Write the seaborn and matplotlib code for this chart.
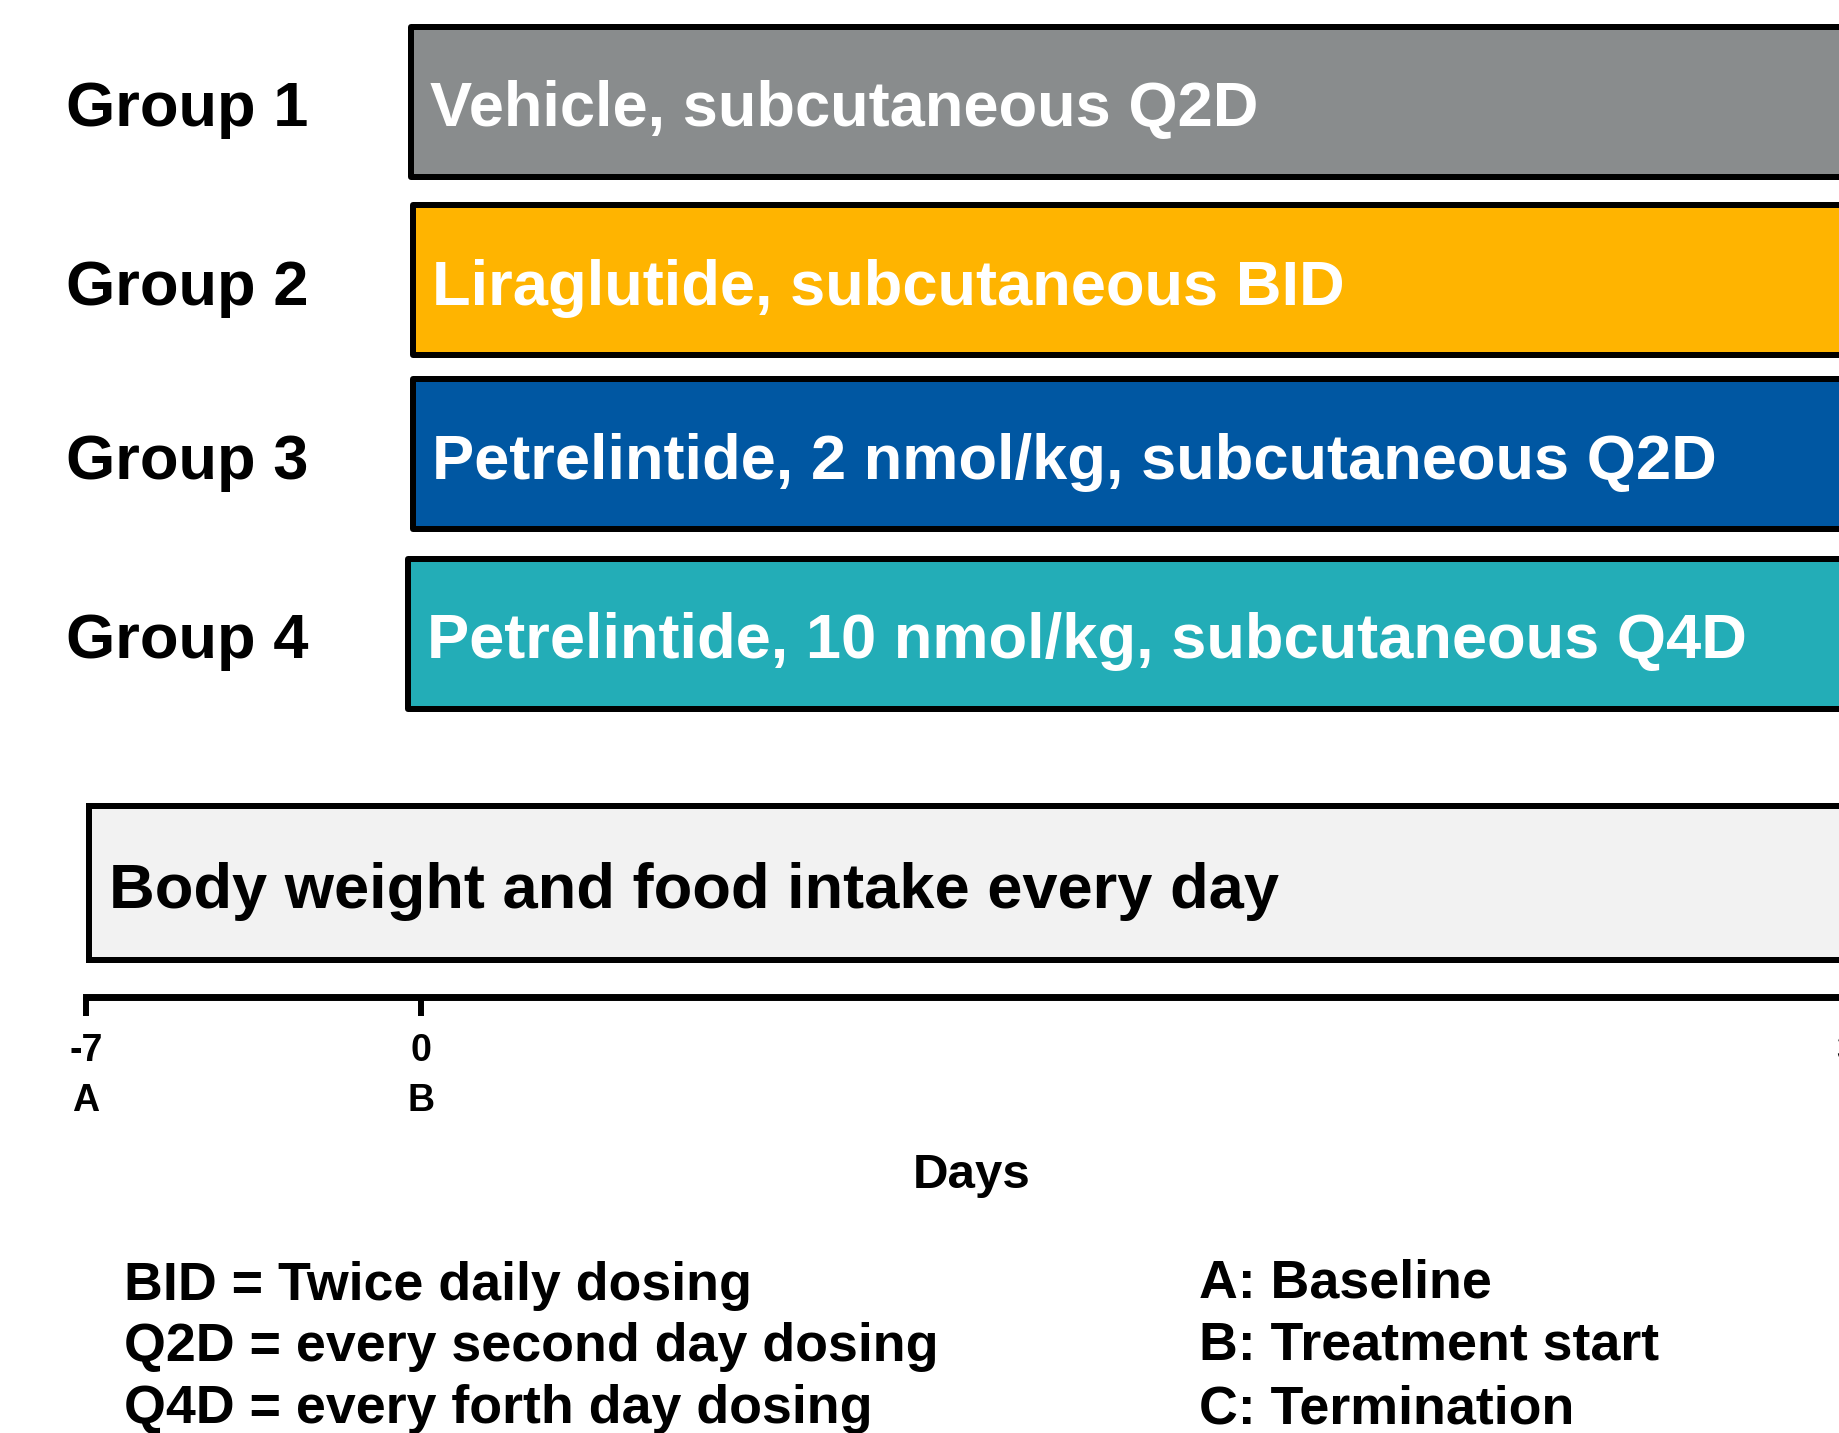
import matplotlib
matplotlib.use("Agg")
import matplotlib.pyplot as plt
import seaborn as sns
import pandas as pd

# ---------------- data ----------------
groups = ["Group 1", "Group 2", "Group 3", "Group 4"]
treatments = [
    "Vehicle, subcutaneous Q2D",
    "Liraglutide, subcutaneous BID",
    "Petrelintide, 2 nmol/kg, subcutaneous Q2D",
    "Petrelintide, 10 nmol/kg, subcutaneous Q4D",
]
start_day = [-0.21, -0.17, -0.17, -0.27]
end_day = [32, 32, 32, 32]
bar_colors = ["#898C8D", "#FFB400", "#0057A2", "#23ADB7"]

monitor_label = "Body weight and food intake every day"
monitor_start = -6.94
monitor_end = 32
monitor_color = "#F2F2F2"

tick_days = [-7, 0, 30]
tick_letters = ["A", "B", "C"]
axis_label = "Days"

abbrev_notes = ["BID = Twice daily dosing",
                "Q2D = every second day dosing",
                "Q4D = every forth day dosing"]
timepoint_notes = ["A: Baseline", "B: Treatment start", "C: Termination"]

df = pd.DataFrame({"group": groups, "treatment": treatments,
                   "start": start_day, "end": end_day, "color": bar_colors})

# ---------------- layout (pixels of the 1840x1433 canvas) ----------------
W, H = 1840, 1433
DPI = 100
px_per_day = 47.86
x_left_px = 86
row_centers = [101.5, 280, 454, 633.5]
row_height = 150
mon_center, mon_height = 883, 154
axis_y = 996.5
lw = 4.32  # 6 px

sns.set_theme(style="white")
plt.rcParams["font.family"] = ["Liberation Sans", "DejaVu Sans"]
plt.rcParams["font.weight"] = "bold"
plt.rcParams["text.color"] = "black"
plt.rcParams["axes.labelcolor"] = "black"
plt.rcParams["xtick.color"] = "black"
plt.rcParams["xtick.labelcolor"] = "black"

fig = plt.figure(figsize=(W / DPI, H / DPI), dpi=DPI)
ax_w = (tick_days[-1] - tick_days[0]) * px_per_day / W
ax = fig.add_axes([x_left_px / W, 0, ax_w, 1])
ax.set_xlim(tick_days[0], tick_days[-1])
ax.set_ylim(H, 0)
ax.axis("off")

# treatment bars
bars = ax.barh(row_centers, df["end"] - df["start"], left=df["start"],
               height=row_height, color=df["color"], edgecolor="black",
               linewidth=lw, clip_on=False)
for b in bars:
    b.set_joinstyle("round")

fs_big = 45.5
cap_off = 0.716 * fs_big * DPI / 72 / 2 + 2
for yc, s, t, g in zip(row_centers, df["start"], df["treatment"], df["group"]):
    ax.text(s + 0.4, yc + cap_off, t, color="white", fontsize=fs_big,
            fontweight="bold", va="baseline", ha="left")
    ax.text(tick_days[0] - 20.5 / px_per_day, yc + cap_off, g, color="black",
            fontsize=fs_big, fontweight="bold", va="baseline", ha="left",
            clip_on=False)

# monitoring bar
mb = ax.barh([mon_center], [monitor_end - monitor_start], left=[monitor_start],
             height=mon_height, color=monitor_color, edgecolor="black",
             linewidth=lw, clip_on=False)
ax.text(monitor_start + 20 / px_per_day, mon_center + cap_off, monitor_label,
        color="black", fontsize=fs_big, fontweight="bold", va="baseline",
        ha="left")

# time axis
ax2 = fig.add_axes([x_left_px / W, (H - axis_y) / H, ax_w, 0.0001])
ax2.set_xlim(tick_days[0], tick_days[-1])
for side in ["top", "left", "right"]:
    ax2.spines[side].set_visible(False)
ax2.spines["bottom"].set_linewidth(5)
ax2.spines["bottom"].set_color("black")
ax2.spines["bottom"].set_capstyle("projecting")
ax2.set_yticks([])
ax2.set_facecolor("none")
ax2.set_xticks(tick_days)
ax2.set_xticklabels([f"{d}\n{l}" for d, l in zip(tick_days, tick_letters)],
                    family=["Liberation Sans Narrow", "Liberation Sans"],
                    fontsize=27, fontweight="bold", linespacing=1.5,
                    color="black")
ax2.tick_params(axis="x", direction="out", length=14, width=4.3,
                color="black", pad=12, bottom=True)
ax2.set_xlabel(axis_label, fontsize=35.5, fontweight="bold", labelpad=25,
               color="black")

# footnotes
fs_note = 38.7
for txt, y in zip(abbrev_notes, [1300, 1361, 1423]):
    fig.text(124 / W, 1 - y / H, txt, fontsize=fs_note, fontweight="bold",
             va="baseline", ha="left", color="black")
for txt, y in zip(timepoint_notes, [1297, 1360, 1423]):
    fig.text(1199 / W, 1 - y / H, txt, fontsize=fs_note, fontweight="bold",
             va="baseline", ha="left", color="black")

fig.savefig("out.png", dpi=DPI, facecolor="white")
